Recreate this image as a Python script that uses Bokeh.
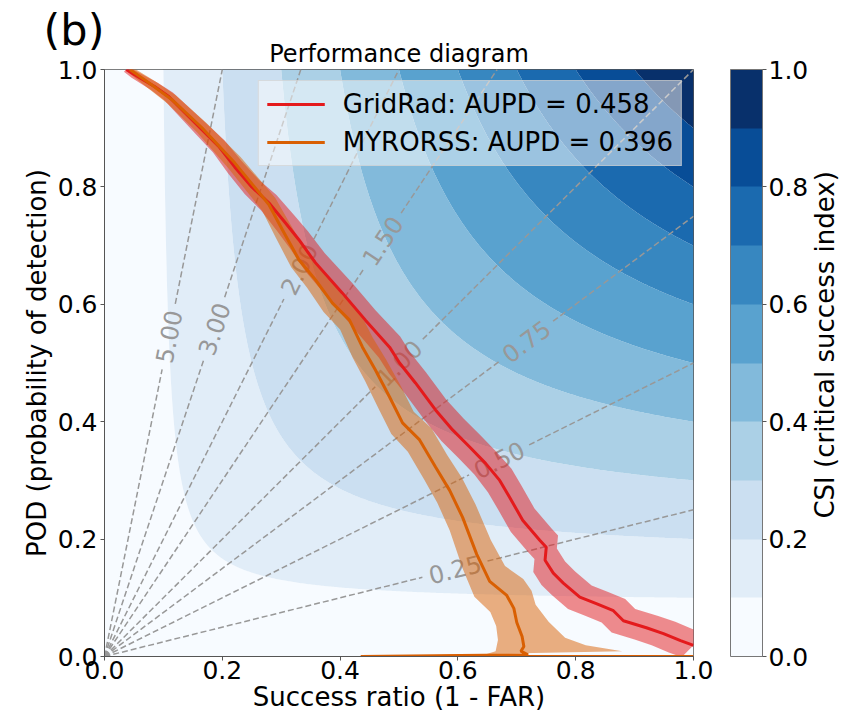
import numpy as np
from bokeh.plotting import figure
from bokeh.layouts import column, row
from bokeh.models import (Range1d, LinearColorMapper, ColorBar, FixedTicker,
                          PrintfTickFormatter, Legend, LegendItem)
from bokeh.core.properties import value
from bokeh.embed import file_html
from bokeh.resources import INLINE

# ---------------- data ----------------
gridrad_sr = [0.037, 0.051, 0.085, 0.109, 0.136, 0.165, 0.194, 0.221, 0.250, 0.279,
              0.307, 0.330, 0.358, 0.404, 0.443, 0.484, 0.501, 0.528, 0.562, 0.591,
              0.620, 0.647, 0.671, 0.688, 0.710, 0.739, 0.750, 0.748, 0.762, 0.779,
              0.807, 0.835, 0.864, 0.881, 0.920, 0.949, 0.978, 1.000]
gridrad_pod = [1.000, 0.991, 0.971, 0.954, 0.927, 0.898, 0.869, 0.834, 0.800, 0.773,
               0.739, 0.710, 0.671, 0.619, 0.573, 0.527, 0.500, 0.466, 0.420, 0.386,
               0.357, 0.329, 0.300, 0.271, 0.232, 0.198, 0.186, 0.164, 0.142, 0.125,
               0.101, 0.090, 0.078, 0.061, 0.049, 0.039, 0.027, 0.019]
gridrad_ci = [0.004, 0.005, 0.006, 0.007, 0.008, 0.009, 0.010, 0.011, 0.012, 0.013,
              0.014, 0.015, 0.016, 0.017, 0.017, 0.018, 0.018, 0.018, 0.018, 0.019,
              0.019, 0.019, 0.020, 0.020, 0.020, 0.020, 0.020, 0.020, 0.020, 0.020,
              0.020, 0.020, 0.020, 0.020, 0.020, 0.020, 0.020, 0.020]

myrorss_sr = [0.043, 0.080, 0.114, 0.165, 0.221, 0.279, 0.302, 0.330, 0.358, 0.387,
              0.416, 0.438, 0.460, 0.484, 0.506, 0.535, 0.562, 0.586, 0.608, 0.632,
              0.654, 0.683, 0.695, 0.700, 0.709, 0.712, 0.707, 0.719, 0.435, 1.000]
myrorss_pod = [1.000, 0.974, 0.949, 0.901, 0.841, 0.770, 0.727, 0.676, 0.642, 0.602,
               0.573, 0.527, 0.488, 0.442, 0.398, 0.369, 0.323, 0.283, 0.237, 0.174,
               0.128, 0.104, 0.082, 0.058, 0.034, 0.017, 0.009, 0.003, 0.000, 0.000]
myrorss_ci_sr = [0.004, 0.006, 0.007, 0.008, 0.010, 0.011, 0.012, 0.013, 0.014, 0.015,
                 0.016, 0.017, 0.018, 0.019, 0.019, 0.020, 0.020, 0.021, 0.022, 0.024,
                 0.026, 0.028, 0.030, 0.032, 0.045, 0.070, 0.110, 0.160, 0.0, 0.0]
myrorss_ci_pod = [0.004, 0.006, 0.007, 0.008, 0.010, 0.011, 0.012, 0.013, 0.014, 0.015,
                  0.016, 0.017, 0.018, 0.019, 0.019, 0.020, 0.020, 0.021, 0.022, 0.024,
                  0.026, 0.028, 0.030, 0.030, 0.025, 0.015, 0.010, 0.006, 0.0, 0.0]

gridrad_aupd = 0.458
myrorss_aupd = 0.396

bias_levels = [0.25, 0.50, 0.75, 1.00, 1.50, 2.00, 3.00, 5.00]
bias_label_sr = [0.595, 0.670, 0.716, 0.500, 0.472, 0.330, 0.186, 0.109]

csi_levels = [0.0, 0.1, 0.2, 0.3, 0.4, 0.5, 0.6, 0.7, 0.8, 0.9, 1.0]
csi_colors = ["#f7fbff", "#e1edf8", "#cbdff1", "#abd0e6", "#82badb",
              "#59a2cf", "#3787c0", "#1b6aaf", "#084d97", "#08306b"]
axis_ticks = [0.0, 0.2, 0.4, 0.6, 0.8, 1.0]
cbar_ticks = [0.0, 0.2, 0.4, 0.6, 0.8, 1.0]

panel_tag = "(b)"
title_text = "Performance diagram"
x_label = "Success ratio (1 - FAR)"
y_label = "POD (probability of detection)"
cbar_label = "CSI (critical success index)"

FONT = "DejaVu Sans"
RED = "#e41a1c"
ORANGE = "#d95f02"
BIAS_COLOR = "#989898"
FRAME_C = "#555555"

# ---------------- layout sizes (page pixels) ----------------
TOTAL_W = 845
TOP_H = 69          # strip with panel tag and title
OVERLAP = 14        # main figure starts this far above the strip bottom
MAIN_W, MAIN_H = 812, 664
SIDE_OVERLAP = 6
RIGHT_W = TOTAL_W - MAIN_W + SIDE_OVERLAP
FRAME_L, FRAME_W, FRAME_H = 104, 589, 587

# ---------------- top strip: panel tag + title ----------------
top = figure(width=TOTAL_W, height=TOP_H, x_range=Range1d(0, TOTAL_W), y_range=Range1d(0, TOP_H),
             output_backend="svg", toolbar_location=None, min_border=0,
             x_axis_type=None, y_axis_type=None, title_location=None)
top.outline_line_color = None
top.grid.visible = False
top.background_fill_color = "white"
top.border_fill_color = "white"
top.text(x=[73.5], y=[TOP_H - 29.5], text=[panel_tag], text_align="center",
         text_baseline="middle", text_font=value(FONT), text_font_size="43px",
         text_color="black")
top.text(x=[FRAME_L + FRAME_W / 2.0], y=[TOP_H - 53.7], text=[title_text], text_align="center",
         text_baseline="middle", text_font=value(FONT), text_font_size="24px",
         text_color="black")
top.margin = (0, 0, -OVERLAP, 0)

# ---------------- main performance diagram ----------------
p = figure(width=MAIN_W, height=MAIN_H, x_range=Range1d(0, 1), y_range=Range1d(0, 1),
           output_backend="svg", toolbar_location=None, title_location=None,
           min_border_left=FRAME_L, min_border_right=MAIN_W - FRAME_L - FRAME_W,
           min_border_top=OVERLAP, min_border_bottom=MAIN_H - OVERLAP - FRAME_H)
p.background_fill_color = "white"
p.border_fill_alpha = 0
p.grid.visible = False
p.outline_line_color = FRAME_C
p.outline_line_width = 1

for ax in (p.xaxis[0], p.yaxis[0]):
    ax.ticker = FixedTicker(ticks=axis_ticks)
    ax.formatter = PrintfTickFormatter(format="%.1f")
    ax.major_label_text_font = FONT
    ax.major_label_text_font_size = "25px"
    ax.axis_label_text_font = FONT
    ax.axis_label_text_font_size = "26px"
    ax.axis_label_text_font_style = "normal"
    ax.axis_label_text_color = "black"
    ax.major_tick_in = 0
    ax.major_tick_out = 4
    ax.minor_tick_line_color = None
    ax.axis_line_color = FRAME_C
    ax.major_tick_line_color = FRAME_C
    ax.major_label_text_color = "black"
p.xaxis.axis_label = x_label
p.yaxis.axis_label = y_label
p.xaxis.major_label_standoff = 0
p.xaxis.axis_label_standoff = 0
p.yaxis.major_label_standoff = 3
p.yaxis.axis_label_standoff = 3

# CSI filled contours
sr_grid = np.linspace(0.0005, 1.0, 400)
pod_grid = np.linspace(0.0005, 1.0, 400)
SRg, PODg = np.meshgrid(sr_grid, pod_grid)
csi = 1.0 / (1.0 / SRg + 1.0 / PODg - 1.0)
p.contour(sr_grid, pod_grid, csi, levels=csi_levels, fill_color=csi_colors, line_color=None)

# frequency-bias dashed lines with inline labels
gap = 0.057
seg_x, seg_y = [], []
lab_x, lab_y, lab_t, lab_a = [], [], [], []
for b, s in zip(bias_levels, bias_label_sr):
    end_sr = min(1.0, 1.0 / b)
    end_pod = b * end_sr
    n = np.hypot(1.0, b)
    ux, uy = 1.0 / n, b / n
    seg_x += [[0.0, s - gap * ux], [s + gap * ux, end_sr]]
    seg_y += [[0.0, b * s - gap * uy], [b * s + gap * uy, end_pod]]
    lab_x.append(s)
    lab_y.append(b * s)
    lab_t.append("%.2f" % b)
    lab_a.append(float(np.arctan(b * FRAME_H / FRAME_W)))
p.multi_line(seg_x, seg_y, line_color=BIAS_COLOR, line_width=1.5, line_dash="6 3")
p.text(x=lab_x, y=lab_y, text=lab_t, angle=lab_a, text_align="center",
       text_baseline="middle", text_color=BIAS_COLOR, text_font_size="24px",
       text_font=value(FONT))


def band(sr, pod, esr, epod):
    sr, pod, esr, epod = (np.asarray(a, dtype=float) for a in (sr, pod, esr, epod))
    xs = np.concatenate([sr + esr, (sr - esr)[::-1]])
    ys = np.concatenate([pod + epod, (pod - epod)[::-1]])
    return np.clip(xs, 0, 1.02), np.clip(ys, -0.01, 1.02)


gx, gy = band(gridrad_sr, gridrad_pod, gridrad_ci, gridrad_ci)
p.patch(gx, gy, fill_color=RED, fill_alpha=0.5, line_color=None)
mx, my = band(myrorss_sr, myrorss_pod, myrorss_ci_sr, myrorss_ci_pod)
p.patch(mx, my, fill_color=ORANGE, fill_alpha=0.5, line_color=None)

r_g = p.line(gridrad_sr, gridrad_pod, line_color=RED, line_width=3)
r_m = p.line(myrorss_sr, myrorss_pod, line_color=ORANGE, line_width=3)

legend = Legend(items=[
    LegendItem(label="GridRad: AUPD = %.3f" % gridrad_aupd, renderers=[r_g]),
    LegendItem(label="MYRORSS: AUPD = %.3f" % myrorss_aupd, renderers=[r_m]),
], location="top_right")
legend.margin = 11
legend.padding = 8
legend.spacing = 8
legend.glyph_width = 58
legend.glyph_height = 30
legend.label_height = 30
legend.label_standoff = 18
legend.label_text_font = FONT
legend.label_text_font_size = "26px"
legend.label_text_color = "black"
legend.background_fill_color = "white"
legend.background_fill_alpha = 0.5
legend.border_line_color = "#cccccc"
legend.border_line_alpha = 0.6
p.add_layout(legend)

# colour bar
mapper = LinearColorMapper(palette=csi_colors, low=csi_levels[0], high=csi_levels[-1])
cb = ColorBar(color_mapper=mapper, ticker=FixedTicker(ticks=cbar_ticks),
              formatter=PrintfTickFormatter(format="%.1f"),
              location=(37, 0), width=32, height=FRAME_H, margin=0, padding=0,
              major_tick_in=0, major_tick_out=4, major_tick_line_color=FRAME_C,
              bar_line_color="#777777", border_line_color=None,
              background_fill_alpha=0, label_standoff=2,
              major_label_text_font=FONT, major_label_text_font_size="25px",
              major_label_text_color="black")
p.add_layout(cb, "right")

# ---------------- narrow strip with the rotated colour-bar label ----------------
side = figure(width=RIGHT_W, height=MAIN_H, x_range=Range1d(0, RIGHT_W), y_range=Range1d(0, MAIN_H),
              output_backend="svg", toolbar_location=None, min_border=0,
              x_axis_type=None, y_axis_type=None, title_location=None)
side.outline_line_color = None
side.grid.visible = False
side.background_fill_alpha = 0
side.border_fill_alpha = 0
side.text(x=[824.0 - (MAIN_W - SIDE_OVERLAP)], y=[352.5], text=[cbar_label], angle=np.pi / 2,
          text_align="center", text_baseline="middle", text_font=value(FONT),
          text_font_size="26px", text_color="black")
side.margin = (0, 0, 0, -SIDE_OVERLAP)

layout = column(top, row(p, side))
open("out.html", "w").write(file_html(layout, INLINE))
